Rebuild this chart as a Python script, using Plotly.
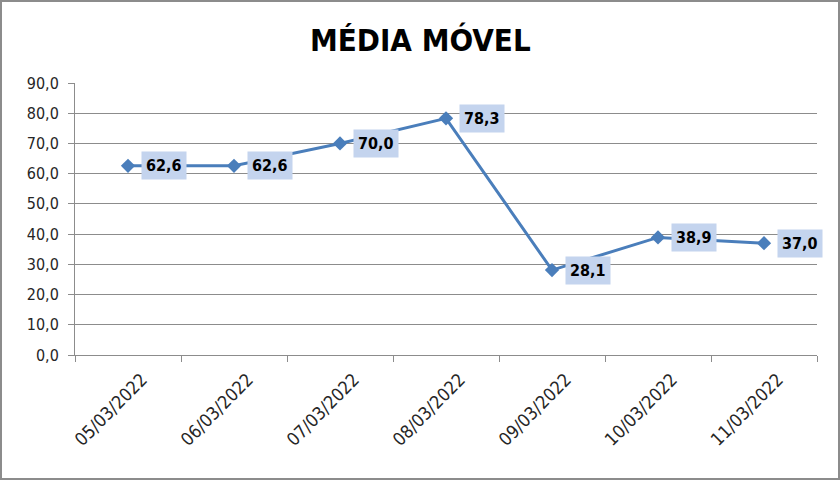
import plotly.graph_objects as go

categories = ["05/03/2022", "06/03/2022", "07/03/2022", "08/03/2022",
              "09/03/2022", "10/03/2022", "11/03/2022"]
values = [62.6, 62.6, 70.0, 78.3, 28.1, 38.9, 37.0]
y_ticks = [0, 10, 20, 30, 40, 50, 60, 70, 80, 90]
title_text = "MÉDIA MÓVEL"

W, H = 840, 480
ML, MR, MT, MB = 75, 23, 83, 125
FONT = "Liberation Sans Narrow, DejaVu Sans Condensed, Roboto, sans-serif"

pw = W - ML - MR
ph = H - MT - MB

fig = go.Figure()
fig.add_trace(go.Scatter(
    x=categories, y=values, mode="lines+markers",
    line=dict(color="#4a7ebb", width=3),
    marker=dict(symbol="diamond", size=11, color="#4a7ebb"),
    hoverinfo="skip",
))

for c, v in zip(categories, values):
    fig.add_annotation(
        x=c, y=v, xref="x", yref="y",
        text="<b>" + f"{v:.1f}".replace(".", ",") + "</b>",
        showarrow=False, xshift=36,
        font=dict(family=FONT, size=16, color="#000000"),
        bgcolor="#c4d4ee", borderpad=4,
    )

fig.add_annotation(
    x=(W / 2 - ML) / pw, y=(H - MB - 40) / ph, xref="paper", yref="paper",
    xanchor="center", yanchor="middle",
    text="<b>" + title_text + "</b>", showarrow=False,
    font=dict(family=FONT, size=31, color="#000000"),
)

fig.add_shape(
    type="rect", xref="paper", yref="paper",
    x0=(1 - ML) / pw, x1=(W - 1 - ML) / pw,
    y0=(-MB + 1) / ph, y1=(H - MB - 1) / ph,
    line=dict(color="#8c8c8c", width=2), layer="above",
)

fig.update_layout(
    width=W, height=H,
    margin=dict(l=ML, r=MR, t=MT, b=MB, autoexpand=False),
    paper_bgcolor="white", plot_bgcolor="white",
    showlegend=False,
    separators=",.",
    font=dict(family=FONT, size=15, color="#262626"),
    xaxis=dict(
        type="category", tickangle=-45, tickson="boundaries",
        ticks="outside", ticklen=6, tickcolor="#8c8c8c",
        showgrid=False, showline=True, linecolor="#8c8c8c", linewidth=1,
        tickfont=dict(family=FONT, size=18, color="#262626"),
        ticklabelshift=14, ticklabelstandoff=6,
        range=[-0.5, 6.5], automargin=False,
    ),
    yaxis=dict(
        range=[0, 90], tickvals=y_ticks, tickformat=".1f",
        ticks="outside", ticklen=6, tickcolor="#8c8c8c",
        showgrid=True, gridcolor="#8c8c8c", gridwidth=1,
        showline=True, linecolor="#8c8c8c", linewidth=1,
        zeroline=False, automargin=False, ticklabelstandoff=6,
        tickfont=dict(family=FONT, size=16, color="#262626"),
    ),
)

fig.write_html(
    "out.html",
    config={"displayModeBar": False},
    post_script="document.body.style.margin='0';document.body.style.overflow='hidden';",
)
